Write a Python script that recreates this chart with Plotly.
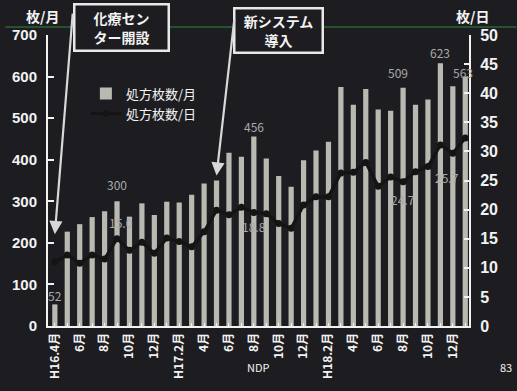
import plotly.graph_objects as go

# ---- data ----
months = ["H16.4", "H16.5", "H16.6", "H16.7", "H16.8", "H16.9", "H16.10", "H16.11", "H16.12",
          "H17.1", "H17.2", "H17.3", "H17.4", "H17.5", "H17.6", "H17.7", "H17.8", "H17.9",
          "H17.10", "H17.11", "H17.12", "H18.1", "H18.2", "H18.3", "H18.4", "H18.5", "H18.6",
          "H18.7", "H18.8", "H18.9", "H18.10", "H18.11", "H18.12", "H19.1"]
per_month = [52, 227, 245, 262, 276, 300, 263, 295, 267,
             299, 297, 316, 343, 350, 417, 407, 456, 403,
             361, 335, 399, 422, 443, 575, 532, 570, 521,
             518, 573, 532, 545, 632, 577, 600]
per_day = [11.0, 12.2, 10.8, 12.2, 11.5, 15.0, 13.0, 14.4, 12.5,
           15.1, 14.5, 13.6, 16.2, 19.9, 19.1, 20.4, 19.5, 19.3,
           17.6, 16.8, 20.8, 22.2, 22.2, 26.3, 26.4, 28.1, 24.0,
           25.6, 24.8, 26.5, 27.4, 31.1, 29.7, 32.3]
tick_labels = ["H16.4月", "", "6月", "", "8月", "", "10月", "", "12月", "", "H17.2月", "", "4月", "",
               "6月", "", "8月", "", "10月", "", "12月", "", "H18.2月", "", "4月", "", "6月", "",
               "8月", "", "10月", "", "12月", ""]
# value labels as printed: (text, x position in month index, y value, axis)
value_labels = [("52", 0, 74, "y"), ("300", 5, 340, "y"), ("15.0", 5.3, 17.8, "y2"),
                ("456", 16, 480, "y"), ("18.8", 16, 17.1, "y2"), ("509", 27.6, 609, "y"),
                ("24.7", 28, 21.7, "y2"), ("623", 31, 657, "y"), ("25.7", 31.5, 25.6, "y2"),
                ("563", 32.8, 609, "y"), ("31.5", 34, 31.5, "y2")]

BG = "#1d1d21"
WHITE = "#f2f2f2"
FONT = "Noto Sans CJK JP"

fig = go.Figure()
fig.add_trace(go.Bar(x=months, y=per_month, name="処方枚数/月", marker_color="#b9b9b2",
                     marker_line_width=0, width=0.42, yaxis="y"))
fig.add_trace(go.Scatter(x=months, y=per_day, name="処方枚数/日", mode="lines+markers",
                         line=dict(color="#141414", width=3.2),
                         marker=dict(color="#141414", size=7), yaxis="y2"))

annotations = []
for txt, xi, yv, ax in value_labels:
    annotations.append(dict(text=txt, x=xi, y=yv, xref="x", yref=ax, showarrow=False,
                            xanchor="center", yanchor="middle",
                            font=dict(family=FONT, size=12, color="#a9a9a9")))


def px_to_paper(px, py):
    return (px - 43) / 426, (327 - py) / 292


def add_paper_text(text, px, py, size=13, color=WHITE, **kw):
    x, y = px_to_paper(px, py)
    annotations.append(dict(text=text, x=x, y=y, xref="paper", yref="paper", showarrow=False,
                            xanchor="center", yanchor="middle",
                            font=dict(family=FONT, size=size, color=color), **kw))


add_paper_text("<b>枚/月</b>", 37, 16, size=14)
add_paper_text("<b>枚/日</b>", 473, 16, size=14)
add_paper_text("<b>化療セン<br>ター開設</b>", 117, 27, size=14, width=86, height=38,
               bordercolor="#e8e8e8", borderwidth=2.5, borderpad=3, bgcolor=BG)
add_paper_text("<b>新システム<br>導入</b>", 276, 30, size=14, width=80, height=36,
               bordercolor="#e8e8e8", borderwidth=2.5, borderpad=3, bgcolor=BG)
add_paper_text("NDP", 256, 368, size=11)
add_paper_text("83", 506, 368, size=11)

# arrows
annotations.append(dict(text="", x=0, y=221, xref="x", yref="y", showarrow=True,
                        ax=18, ay=-222, arrowhead=2, arrowsize=1.2, arrowwidth=2.2,
                        arrowcolor="#d8d8d8"))
annotations.append(dict(text="", x=13, y=362, xref="x", yref="y", showarrow=True,
                        ax=18, ay=-158, arrowhead=2, arrowsize=1.2, arrowwidth=2.2,
                        arrowcolor="#d8d8d8"))

gx0, gy = px_to_paper(0, 27)
gx1, _ = px_to_paper(517, 27)

fig.update_layout(
    width=517, height=391,
    margin=dict(l=43, r=48, t=35, b=64),
    paper_bgcolor=BG, plot_bgcolor=BG,
    font=dict(family=FONT, color=WHITE),
    showlegend=True,
    legend=dict(x=0.09, y=0.85, xanchor="left", yanchor="top", bgcolor="rgba(0,0,0,0)",
                font=dict(family=FONT, size=13, color=WHITE), itemwidth=30,
                tracegroupgap=0),
    bargap=0.5,
    xaxis=dict(type="category", categoryorder="array", categoryarray=months,
               range=[-0.55, 33.3], tickmode="array", tickvals=months, ticktext=tick_labels,
               tickangle=-90, ticks="inside", ticklen=3, tickcolor=WHITE,
               showline=True, linecolor=WHITE, linewidth=2, showgrid=False,
               tickfont=dict(family=FONT, size=12, color=WHITE, weight="bold")),
    yaxis=dict(range=[0, 700], dtick=100, ticks="inside", ticklen=6, tickwidth=2,
               tickcolor=WHITE, showline=True, linecolor=WHITE, linewidth=2,
               showgrid=False, zeroline=False, ticklabelstandoff=6,
               tickfont=dict(family="Liberation Sans", size=15, color=WHITE, weight="bold")),
    yaxis2=dict(range=[0, 50], dtick=5, overlaying="y", side="right", ticks="inside",
                ticklen=5, tickwidth=2, tickcolor=WHITE, showline=True, linecolor=WHITE,
                linewidth=2, showgrid=False, zeroline=False, ticklabelstandoff=6,
                tickfont=dict(family="Liberation Sans", size=16, color=WHITE, weight="bold")),
    annotations=annotations,
    shapes=[dict(type="line", xref="paper", yref="paper", x0=gx0, x1=gx1, y0=gy, y1=gy,
                 line=dict(color="#2f8a3a", width=1), layer="above")],
)

fig.write_html("out.html")
